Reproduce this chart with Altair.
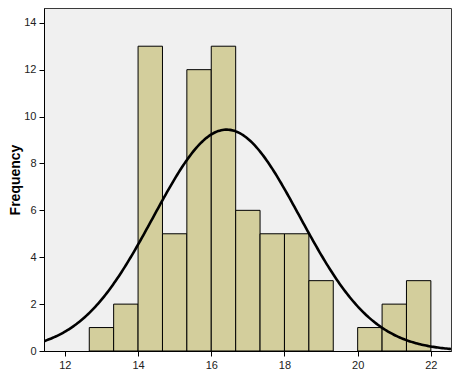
import altair as alt
import pandas as pd

# Histogram bins (left/right edges) and counts
bin_left = [12.667, 13.333, 14.0, 14.667, 15.333, 16.0, 16.667, 17.333, 18.0, 18.667, 19.333, 20.0, 20.667, 21.333]
bin_right = [13.333, 14.0, 14.667, 15.333, 16.0, 16.667, 17.333, 18.0, 18.667, 19.333, 20.0, 20.667, 21.333, 22.0]
counts = [1, 2, 13, 5, 12, 13, 6, 5, 5, 3, 0, 1, 2, 3]

# Fitted normal curve parameters
curve_mean = 16.42
curve_sd = 2.0
n_obs = 71
bin_width = 2 / 3

x_ticks = [12, 14, 16, 18, 20, 22]
y_ticks = [0, 2, 4, 6, 8, 10, 12, 14]
x_domain = [11.43, 22.55]
y_domain = [0, 14.63]

df = pd.DataFrame({"lo": bin_left, "hi": bin_right, "count": counts})
df = df[df["count"] > 0]

x_scale = alt.Scale(domain=x_domain, nice=False, zero=False)
y_scale = alt.Scale(domain=y_domain, nice=False)

bars = alt.Chart(df).mark_rect(fill="#D3CE9C", stroke="#000000", strokeWidth=1).encode(
    x=alt.X("lo:Q", scale=x_scale,
            axis=alt.Axis(values=x_ticks, title=None, format="d")),
    x2="hi:Q",
    y=alt.Y("count:Q", scale=y_scale,
            axis=alt.Axis(values=y_ticks, title="Frequency", format="d")),
    y2=alt.datum(0),
)

amp = n_obs * bin_width / (curve_sd * 2.5066282746)
curve = alt.Chart(alt.sequence(x_domain[0], x_domain[1] + 0.02, 0.04, as_="x")).transform_calculate(
    y=f"{amp} * exp(-0.5 * pow((datum.x - {curve_mean}) / {curve_sd}, 2))"
).mark_line(color="#000000", strokeWidth=2.6, clip=True).encode(
    x=alt.X("x:Q", scale=x_scale),
    y=alt.Y("y:Q", scale=y_scale),
)

chart = alt.layer(bars, curve).properties(
    width=407, height=343,
    autosize=alt.AutoSizeParams(type="none"),
    padding={"left": 36, "top": 0, "right": 1, "bottom": 20},
    background="#FFFFFF",
).configure_view(
    fill="#F0F0F0", stroke="#3A3A3A", strokeWidth=1
).configure_axis(
    grid=False,
    domainColor="#000000",
    domainWidth=1,
    tickColor="#000000",
    tickSize=5,
    labelFont="Liberation Sans",
    labelFontSize=11,
    labelColor="#222222",
    labelPadding=3,
    titleFont="Liberation Sans",
    titleFontSize=14,
    titleFontWeight="bold",
    titleColor="#000000",
).configure_axisY(
    titlePadding=1,
)

chart.save("out.html", embed_options={"renderer": "svg", "actions": False})
